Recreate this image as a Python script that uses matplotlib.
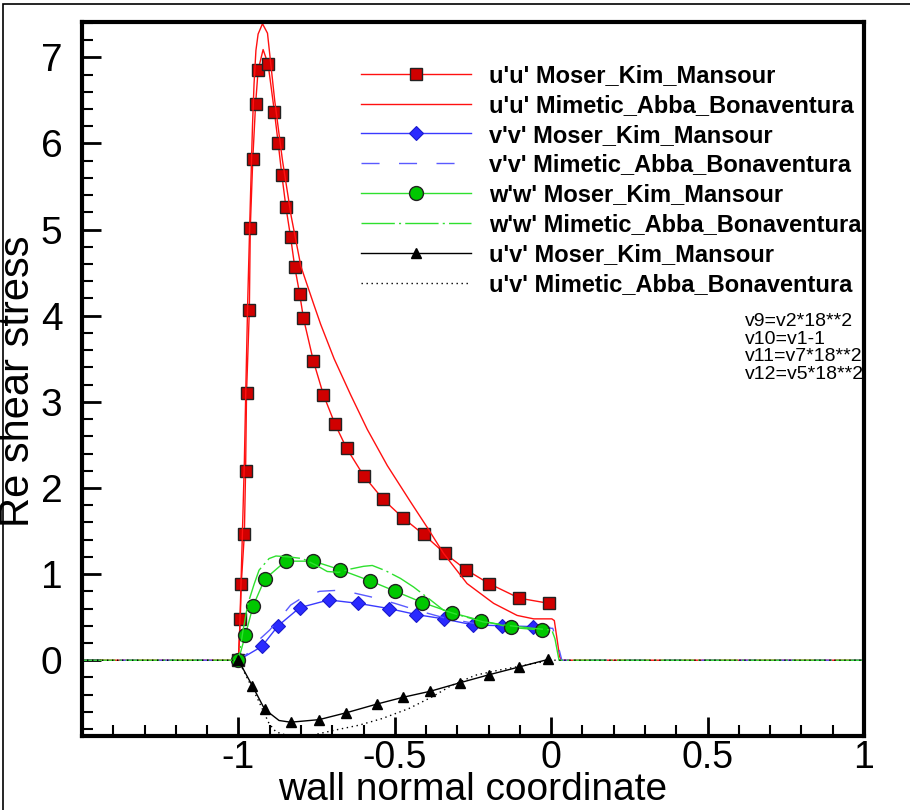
import matplotlib
matplotlib.use('Agg')
import matplotlib.pyplot as plt
from matplotlib.patches import Rectangle
from matplotlib.ticker import MultipleLocator

plt.rcParams['font.family'] = ['Liberation Sans', 'DejaVu Sans']

# Moser_Kim_Mansour DNS profiles (line + markers)
uu_dns_x = [-1.0, -0.994, -0.991, -0.981, -0.977, -0.974, -0.965, -0.962, -0.954, -0.945, -0.937,
            -0.921, -0.905, -0.885, -0.873, -0.861, -0.848, -0.833, -0.820, -0.804, -0.792, -0.760,
            -0.728, -0.691, -0.654, -0.599, -0.538, -0.473, -0.408, -0.340, -0.272, -0.199, -0.102, -0.007]
uu_dns_y = [0.0, 0.48, 0.88, 1.46, 2.20, 3.10, 4.07, 5.02, 5.82, 6.46, 6.85,
            7.09, 6.92, 6.37, 6.01, 5.63, 5.26, 4.91, 4.57, 4.25, 3.97, 3.47,
            3.08, 2.74, 2.46, 2.14, 1.87, 1.65, 1.46, 1.24, 1.05, 0.89, 0.72, 0.66]
uu_dns_marked = [i for i in range(len(uu_dns_x)) if i != 11]

vv_dns_x = [-1.0, -0.925, -0.873, -0.804, -0.711, -0.617, -0.519, -0.431, -0.344, -0.250, -0.156, -0.058, -0.005]
vv_dns_y = [0.0, 0.16, 0.40, 0.61, 0.70, 0.66, 0.60, 0.53, 0.48, 0.41, 0.40, 0.39, 0.38]
vv_dns_marked = list(range(len(vv_dns_x) - 1))

ww_dns_x = [-1.0, -0.978, -0.953, -0.916, -0.849, -0.760, -0.674, -0.578, -0.498, -0.412, -0.317,
            -0.223, -0.127, -0.031, -0.005]
ww_dns_y = [0.0, 0.29, 0.63, 0.94, 1.15, 1.15, 1.05, 0.92, 0.80, 0.67, 0.55, 0.46, 0.38, 0.35, 0.35]
ww_dns_marked = list(range(len(ww_dns_x) - 1))

uv_dns_x = [-1.0, -0.955, -0.916, -0.870, -0.833, -0.742, -0.655, -0.558, -0.473, -0.386, -0.290,
            -0.200, -0.104, -0.009]
uv_dns_y = [0.0, -0.30, -0.57, -0.70, -0.72, -0.69, -0.61, -0.51, -0.43, -0.36, -0.26, -0.17, -0.08, 0.01]
uv_dns_marked = [i for i in range(len(uv_dns_x)) if i != 3]

# Mimetic_Abba_Bonaventura profiles (lines only)
uu_mim_x = [-1.5, -1.0, -0.996, -0.992, -0.987, -0.981, -0.976, -0.970, -0.962, -0.955, -0.950, -0.944,
            -0.937, -0.923, -0.907, -0.884, -0.859, -0.831, -0.800, -0.758, -0.737, -0.694, -0.641,
            -0.588, -0.524, -0.450, -0.396, -0.344, -0.269, -0.184, -0.109, -0.056, 0.002, 0.010,
            0.027, 0.034, 1.0]
uu_mim_y = [0.0, 0.0, 0.35, 0.85, 1.5, 2.3, 3.2, 4.2, 5.3, 6.2, 6.69, 7.08,
            7.27, 7.39, 7.28, 6.50, 5.80, 5.15, 4.57, 4.12, 3.90, 3.50, 3.08,
            2.68, 2.26, 1.84, 1.54, 1.24, 0.89, 0.66, 0.52, 0.48, 0.48, 0.46,
            0.04, 0.0, 0.0]

vv_mim_x = [-1.5, -1.0, -0.97, -0.93, -0.90, -0.86, -0.833, -0.79, -0.74, -0.69, -0.63, -0.57, -0.50,
            -0.42, -0.34, -0.25, -0.15, -0.05, 0.005, 0.02, 0.034, 1.0]
vv_mim_y = [0.0, 0.0, 0.08, 0.25, 0.35, 0.52, 0.64, 0.74, 0.80, 0.81, 0.78, 0.73, 0.66,
            0.57, 0.49, 0.43, 0.40, 0.38, 0.37, 0.2, 0.0, 0.0]

ww_mim_x = [-1.5, -1.0, -0.985, -0.97, -0.95, -0.934, -0.902, -0.88, -0.84, -0.795, -0.75, -0.716,
            -0.68, -0.64, -0.60, -0.572, -0.53, -0.482, -0.44, -0.386, -0.344, -0.30, -0.217,
            -0.13, -0.057, 0.002, 0.012, 0.025, 1.0]
ww_mim_y = [0.0, 0.0, 0.35, 0.65, 0.88, 1.045, 1.18, 1.21, 1.20, 1.18, 1.10, 1.03,
            1.02, 1.06, 1.09, 1.10, 1.04, 0.95, 0.85, 0.70, 0.58, 0.53, 0.445,
            0.40, 0.37, 0.35, 0.25, 0.0, 0.0]

uv_mim_x = [-1.5, -1.0, -0.97, -0.939, -0.902, -0.880, -0.83, -0.763, -0.689, -0.615, -0.540, -0.455,
            -0.381, -0.317, -0.242, -0.168, -0.083, 0.0, 1.0]
uv_mim_y = [0.0, 0.0, -0.22, -0.445, -0.735, -0.832, -0.89, -0.87, -0.81, -0.755, -0.677, -0.561,
            -0.426, -0.29, -0.174, -0.116, -0.058, 0.0, 0.0]

labels = ["u'u' Moser_Kim_Mansour", "u'u' Mimetic_Abba_Bonaventura",
          "v'v' Moser_Kim_Mansour", "v'v' Mimetic_Abba_Bonaventura",
          "w'w' Moser_Kim_Mansour", "w'w' Mimetic_Abba_Bonaventura",
          "u'v' Moser_Kim_Mansour", "u'v' Mimetic_Abba_Bonaventura"]
note_lines = ["v9=v2*18**2", "v10=v1-1", "v11=v7*18**2", "v12=v5*18**2"]

red, blue, green = '#ff1010', '#3a3aff', '#2ee02e'

fig = plt.figure(figsize=(9.1, 8.1), dpi=100)
ax = fig.add_axes([82 / 910, 1 - 736 / 810, (864 - 82) / 910, (736 - 22) / 810])

h = []
h += ax.plot(uu_dns_x, uu_dns_y, color=red, lw=1.0, marker='s', ms=8, mfc='#d00000', mec='#222222',
             mew=1.0, markevery=uu_dns_marked)
h += ax.plot(uu_mim_x, uu_mim_y, color=red, lw=1.0)
h += ax.plot(vv_dns_x, vv_dns_y, color=blue, lw=1.0, marker='D', ms=7, mfc='#2a2aff', mec='#1a1acc',
             mew=0.8, markevery=vv_dns_marked)
h += ax.plot(vv_mim_x, vv_mim_y, color='#5a5aff', lw=1.0, dashes=(13, 14))
h += ax.plot(ww_dns_x, ww_dns_y, color=green, lw=1.0, marker='o', ms=10, mfc='#00c800', mec='#222222',
             mew=1.0, markevery=ww_dns_marked)
h += ax.plot(ww_mim_x, ww_mim_y, color=green, lw=1.0, dashes=(24, 3, 1.5, 3))
h += ax.plot(uv_dns_x, uv_dns_y, color='black', lw=1.0, marker='^', ms=7, mfc='black', mec='black',
             markevery=uv_dns_marked)
h += ax.plot(uv_mim_x, uv_mim_y, color='black', lw=1.0, dashes=(1, 2.6))

ax.set_xlim(-1.5, 1.0)
ax.set_ylim(-0.88, 7.41)
ax.xaxis.set_minor_locator(MultipleLocator(0.1))
ax.yaxis.set_minor_locator(MultipleLocator(0.2))
ax.set_xticks([-1, -0.5, 0, 0.5, 1])
ax.set_xticklabels(['-1', '-0.5', '0', '0.5', '1'])
ax.set_yticks(range(8))
ax.set_yticklabels([str(i) for i in range(8)])
ax.tick_params(which='major', direction='in', length=14, width=2, top=False, right=False)
ax.tick_params(axis='x', which='major', labelsize=27, pad=3)
ax.tick_params(axis='y', which='major', labelsize=28, pad=14)
ax.tick_params(which='minor', direction='in', length=8, width=1.5, top=False, right=False)
for s in ax.spines.values():
    s.set_linewidth(3)

ax.set_xlabel('wall normal coordinate', fontsize=28)
ax.xaxis.set_label_coords(0.5, -0.05)
ax.set_ylabel('Re shear stress', fontsize=30)
ax.yaxis.set_label_coords(-0.056, 0.497)

leg = ax.legend(h, labels, loc='upper left', bbox_to_anchor=(361 / 910, 1 - 64 / 810),
                bbox_transform=fig.transFigure, frameon=False, handlelength=4.66, handletextpad=0.76,
                labelspacing=0.29, borderpad=0, borderaxespad=0, numpoints=1,
                prop={'size': 17, 'weight': 'bold'})

fig.text(745 / 910, 1 - 313 / 810, '\n'.join(note_lines), fontsize=14, va='top', ha='left',
         linespacing=1.05, zorder=1)

fig.patches.append(Rectangle((3 / 910, -0.01), 1.0, 1 - 4 / 810 + 0.01, transform=fig.transFigure,
                             fill=False, lw=1.2, ec='black'))

fig.savefig('out.png', dpi=100)
